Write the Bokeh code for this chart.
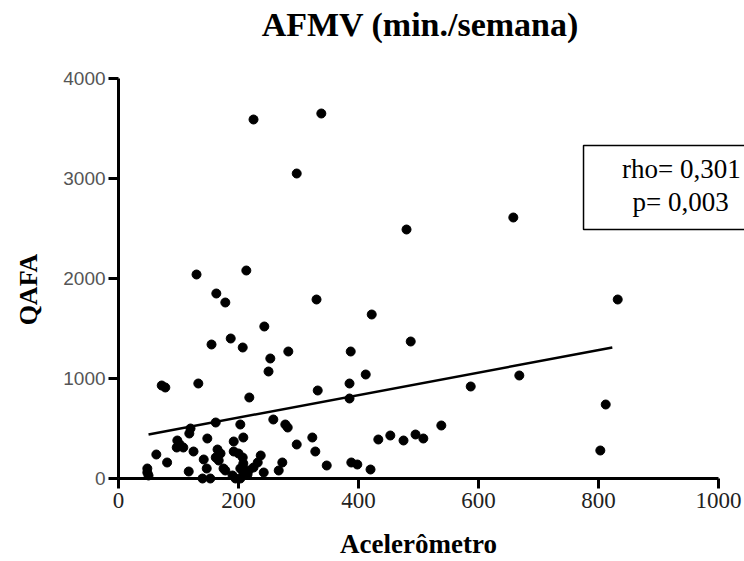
from bokeh.plotting import figure
from bokeh.models import Range1d, Label, PolyAnnotation, FixedTicker
from bokeh.embed import file_html
from bokeh.resources import INLINE
import math

# ---- data ----
acelerometro = [225, 338, 297, 658, 480, 130, 213, 163, 178, 330,
                832, 422, 243, 187, 155, 207, 487, 283, 387, 253,
                250, 412, 668, 385, 587, 332, 72, 78, 133, 218,
                385, 812, 258, 162, 203, 278, 282, 538, 120, 118,
                495, 453, 323, 508, 208, 148, 433, 475, 98, 102,
                97, 108, 192, 297, 803, 328, 125, 63, 165, 170,
                162, 167, 192, 200, 207, 208, 237, 232, 225, 273,
                267, 81, 142, 147, 175, 178, 203, 208, 242, 217,
                117, 48, 48, 50, 140, 153, 195, 203, 347, 388,
                398, 420, 190, 215]
qafa = [3590, 3650, 3050, 2610, 2490, 2040, 2080, 1850, 1760, 1790,
        1790, 1640, 1520, 1400, 1340, 1310, 1370, 1270, 1270, 1200,
        1070, 1040, 1030, 950, 920, 880, 930, 910, 950, 810,
        800, 740, 590, 560, 540, 540, 510, 530, 500, 450,
        440, 430, 410, 400, 410, 400, 390, 380, 380, 340,
        310, 310, 370, 340, 280, 270, 270, 240, 290, 250,
        210, 180, 270, 250, 210, 150, 230, 160, 110, 160,
        80, 160, 190, 100, 100, 80, 100, 60, 60, 80,
        70, 100, 60, 30, 0, 0, 0, 0, 130, 160,
        140, 90, 30, 40]

fit_x = [50, 823]
fit_y = [440, 1310]

x_ticks = [0, 200, 400, 600, 800, 1000]
y_ticks = [0, 1000, 2000, 3000, 4000]

title_text = "AFMV (min./semana)"
x_label = "Acelerômetro"
y_label = "QAFA"
stats_text = ["rho= 0,301", "p= 0,003"]

SERIF = "Liberation Serif"
SANS = "Liberation Sans"

p = figure(width=744, height=561,
           x_range=Range1d(-196.7, 1043.3), y_range=Range1d(-830, 4780),
           output_backend="svg", toolbar_location=None,
           min_border=0, min_border_left=0, min_border_right=0,
           min_border_top=0, min_border_bottom=0)
p.outline_line_color = None
p.xgrid.visible = False
p.ygrid.visible = False
p.background_fill_color = "white"
p.border_fill_color = "white"

# axes crossing at the origin
p.xaxis.fixed_location = 0
p.yaxis.fixed_location = 0
p.xaxis.bounds = (0, 1000)
p.yaxis.bounds = (0, 4000)
p.xaxis.ticker = FixedTicker(ticks=x_ticks)
p.yaxis.ticker = FixedTicker(ticks=y_ticks)
for ax in (p.xaxis, p.yaxis):
    ax.axis_line_width = 3
    ax.axis_line_color = "black"
    ax.major_tick_line_width = 3
    ax.major_tick_line_color = "black"
    ax.major_tick_in = 0
    ax.major_tick_out = 10
    ax.minor_tick_line_color = None
p.xaxis.major_label_text_font = SERIF
p.xaxis.major_label_text_font_size = "23px"
p.xaxis.major_label_text_color = "#222222"
p.xaxis.major_label_standoff = 4
p.yaxis.major_label_text_font = SANS
p.yaxis.major_label_text_font_size = "19px"
p.yaxis.major_label_text_color = "#555555"
p.yaxis.major_label_standoff = 3

# data
p.scatter(acelerometro, qafa, size=9, color="black")
p.line(fit_x, fit_y, line_width=2.5, color="black")

# texts
p.add_layout(Label(x=503, y=4540, text=title_text, text_align="center",
                   text_baseline="alphabetic", text_font=SERIF,
                   text_font_size="34px", text_font_style="bold", text_color="black"))
p.add_layout(Label(x=500, y=-655, text=x_label, text_align="center",
                   text_baseline="alphabetic", text_font=SERIF,
                   text_font_size="27px", text_font_style="bold", text_color="black"))
p.add_layout(Label(x=-150, y=1890, text=y_label, text_align="center",
                   text_baseline="middle", angle=math.pi / 2, text_font=SERIF,
                   text_font_size="26px", text_font_style="bold", text_color="black"))

# statistics box (its right side runs past the picture's edge)
p.add_layout(PolyAnnotation(xs=[1200, 775, 775, 1200], ys=[3330, 3330, 2490, 2490],
                            fill_alpha=0, fill_color=None,
                            line_color="black", line_alpha=1.0, line_width=1.5))
p.add_layout(Label(x=938, y=3100, text=stats_text[0], text_align="center",
                   text_baseline="alphabetic", text_font=SERIF,
                   text_font_size="27px", text_color="black"))
p.add_layout(Label(x=937, y=2770, text=stats_text[1], text_align="center",
                   text_baseline="alphabetic", text_font=SERIF,
                   text_font_size="27px", text_color="black"))

open("out.html", "w").write(file_html(p, INLINE))
